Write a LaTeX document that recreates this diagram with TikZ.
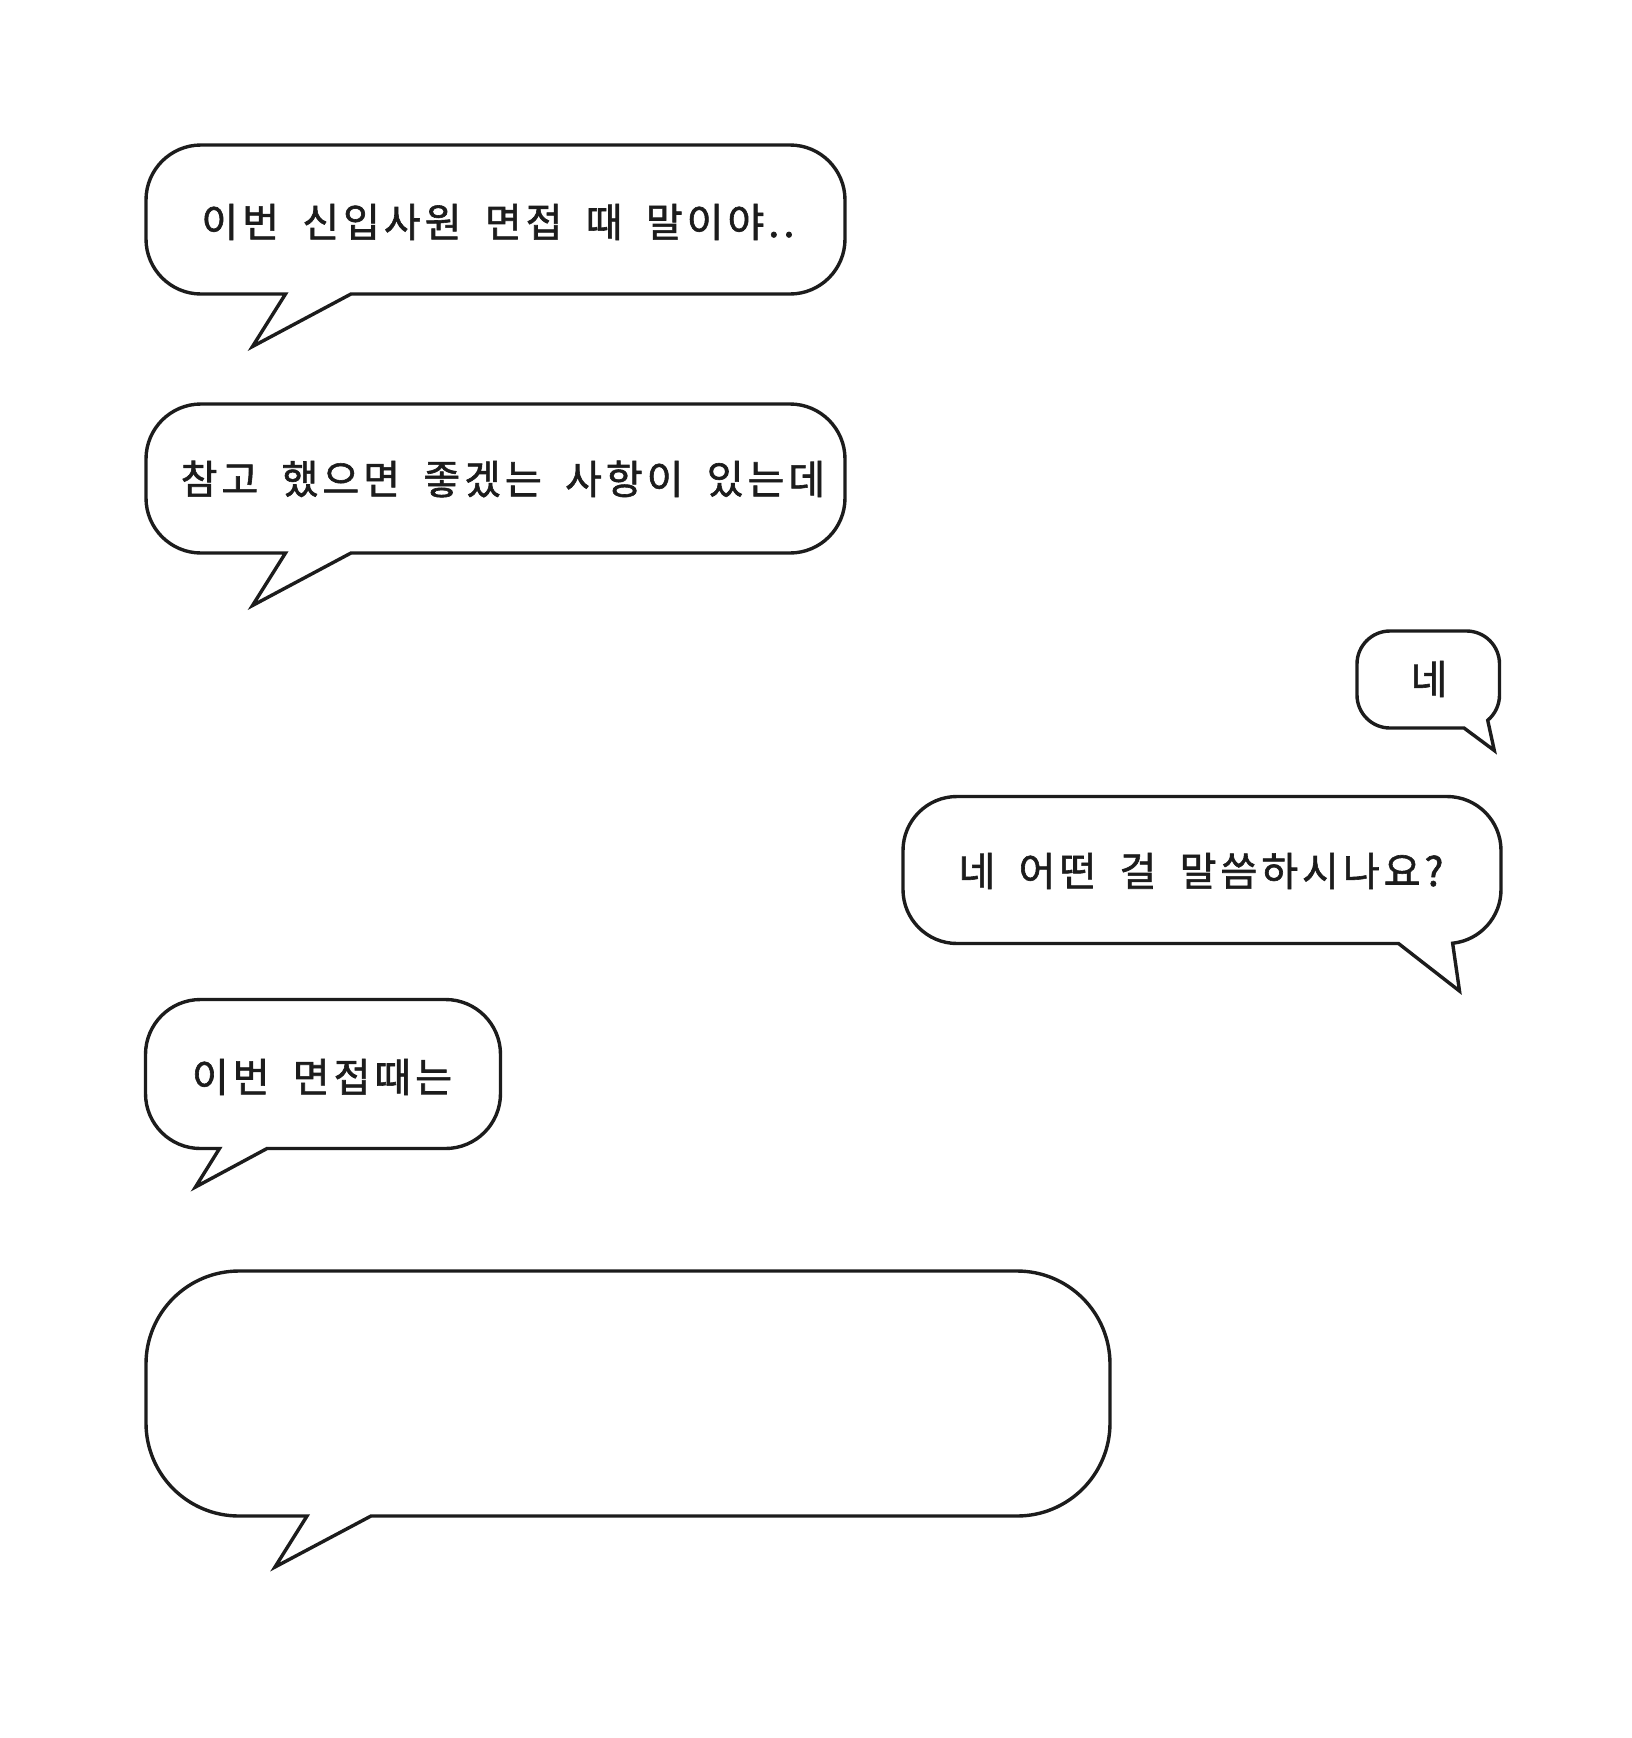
\documentclass[tikz,border=0pt]{standalone}
\usepackage{fontspec}
\newfontfamily\krfont[WordSpace=1.8,LetterSpace=10,FakeBold=1.5]{Noto Sans CJK KR}
\definecolor{ink}{HTML}{1C1C1C}
\newcommand\lbub[9]{% L T R B r ax bx tipx tipy
  \draw[bub] ({#1+#5},#2) -- ({#3-#5},#2) arc[start angle=-90,end angle=0,radius=#5]
    -- (#3,{#4-#5}) arc[start angle=0,end angle=90,radius=#5]
    -- (#7,#4) -- (#8,#9) -- (#6,#4)
    -- ({#1+#5},#4) arc[start angle=90,end angle=180,radius=#5]
    -- (#1,{#2+#5}) arc[start angle=180,end angle=270,radius=#5] -- cycle;}
\newcommand\rbub[9]{% L T R B r ax tipx tipy theta
  \draw[bub] ({#1+#5},#2) -- ({#3-#5},#2) arc[start angle=-90,end angle=0,radius=#5]
    -- (#3,{#4-#5}) arc[start angle=0,end angle=#9,radius=#5]
    -- (#7,#8) -- (#6,#4)
    -- ({#1+#5},#4) arc[start angle=90,end angle=180,radius=#5]
    -- (#1,{#2+#5}) arc[start angle=180,end angle=270,radius=#5] -- cycle;}
\begin{document}
\begin{tikzpicture}[x=1pt,y=-1pt,
  bub/.style={draw=ink,line width=3.4pt,line join=miter,miter limit=10,fill=white},
  msg/.style={inner sep=0pt,text=ink,font=\krfont\fontsize{40pt}{42pt}\selectfont,anchor=center}]
\useasboundingbox[fill=white] (0,0) rectangle (1632,1738);
% bubble 1
\lbub{146}{145}{845}{294}{55}{285.5}{351}{252.5}{346.5}
\node[msg] (t1) at (498,222) {이번 신입사원 면접 때 말이야..};
% bubble 2
\lbub{146}{404}{845}{553}{55}{285.5}{351}{252.5}{605.5}
\node[msg] (t2) at (503,479) {참고 했으면 좋겠는 사항이 있는데};
% bubble 3
\rbub{1357}{631}{1499.5}{728}{33}{1464}{1494.3}{750.5}{50}
\node[msg] (t3) at (1429,679) {네};
% bubble 4
\rbub{903}{796.5}{1501}{943.5}{54}{1398.5}{1459.5}{991}{84}
\node[msg] (t4) at (1201,871) {네 어떤 걸 말씀하시나요?};
% bubble 5
\lbub{145.5}{999.5}{500.5}{1148.5}{55}{219.5}{267}{195.5}{1187}
\node[msg] (t5) at (322,1077) {이번 면접때는};
% bubble 6 (empty)
\lbub{146}{1271}{1110}{1516}{93}{307}{371}{275}{1567}
\end{tikzpicture}
\end{document}
